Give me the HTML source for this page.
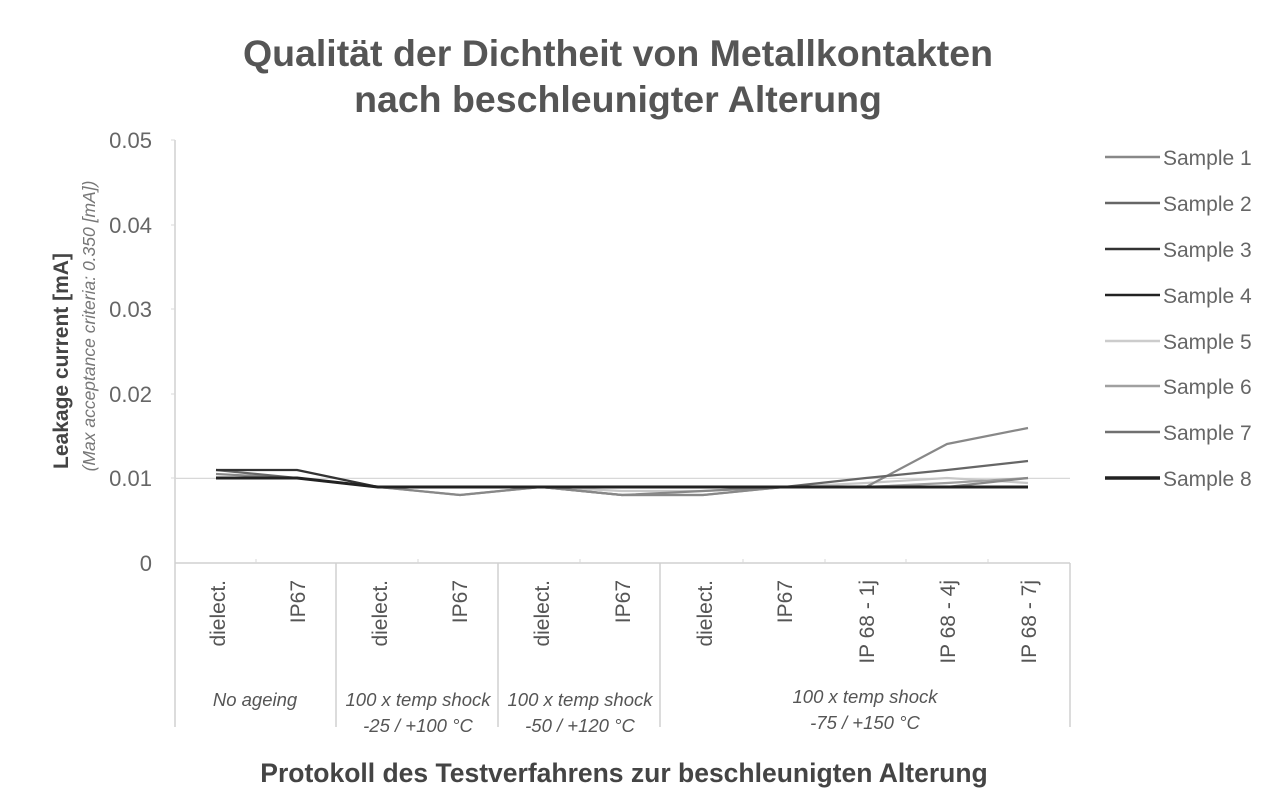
<!DOCTYPE html>
<html><head><meta charset="utf-8"><style>
html,body{margin:0;padding:0;background:#fff;}
svg{display:block;}
text{font-family:"Liberation Sans",sans-serif;}
</style></head><body>
<svg width="1280" height="811" viewBox="0 0 1280 811" xmlns="http://www.w3.org/2000/svg">
<rect width="1280" height="811" fill="#fff"/>
<text x="618" y="66" text-anchor="middle" font-size="37.5" font-weight="bold" fill="#555">Qualität der Dichtheit von Metallkontakten</text>
<text x="618" y="112" text-anchor="middle" font-size="37.5" font-weight="bold" fill="#555">nach beschleunigter Alterung</text>
<line x1="175" y1="140" x2="175" y2="563" stroke="#d0d0d0" stroke-width="1.5"/>
<g stroke="#d8d8d8" stroke-width="1">
<line x1="171" y1="140" x2="175" y2="140"/><line x1="171" y1="225" x2="175" y2="225"/><line x1="171" y1="309" x2="175" y2="309"/><line x1="171" y1="394" x2="175" y2="394"/><line x1="171" y1="478" x2="175" y2="478"/>
</g>
<line x1="175" y1="478.4" x2="1070" y2="478.4" stroke="#d8d8d8" stroke-width="1.2"/>
<g font-size="22" fill="#666" text-anchor="end">
<text x="152" y="148">0.05</text><text x="152" y="233">0.04</text><text x="152" y="317">0.03</text><text x="152" y="402">0.02</text><text x="152" y="486">0.01</text><text x="152" y="571">0</text>
</g>
<text transform="translate(68,361) rotate(-90)" text-anchor="middle" font-size="21" font-weight="bold" fill="#444">Leakage current [mA]</text>
<text transform="translate(95,326) rotate(-90)" text-anchor="middle" font-size="17.5" font-style="italic" fill="#777">(Max acceptance criteria: 0.350 [mA])</text>
<line x1="175" y1="563" x2="1070" y2="563" stroke="#d0d0d0" stroke-width="1.5"/>
<g stroke="#d0d0d0" stroke-width="1.5">
<line x1="175" y1="563" x2="175" y2="727"/><line x1="336" y1="563" x2="336" y2="727"/><line x1="498" y1="563" x2="498" y2="727"/><line x1="660" y1="563" x2="660" y2="727"/><line x1="1070" y1="563" x2="1070" y2="727"/>
</g>
<g stroke="#d8d8d8" stroke-width="1">
<line x1="256" y1="559" x2="256" y2="563"/><line x1="418" y1="559" x2="418" y2="563"/><line x1="580" y1="559" x2="580" y2="563"/><line x1="743" y1="559" x2="743" y2="563"/><line x1="825" y1="559" x2="825" y2="563"/><line x1="906" y1="559" x2="906" y2="563"/><line x1="988" y1="559" x2="988" y2="563"/>
</g>
<g font-size="21" fill="#555" text-anchor="end">
<text transform="translate(225,580) rotate(-90)">dielect.</text>
<text transform="translate(305,580) rotate(-90)">IP67</text>
<text transform="translate(387,580) rotate(-90)">dielect.</text>
<text transform="translate(467,580) rotate(-90)">IP67</text>
<text transform="translate(549,580) rotate(-90)">dielect.</text>
<text transform="translate(630,580) rotate(-90)">IP67</text>
<text transform="translate(712,580) rotate(-90)">dielect.</text>
<text transform="translate(792,580) rotate(-90)">IP67</text>
<text transform="translate(874,580) rotate(-90)">IP 68 - 1j</text>
<text transform="translate(955,580) rotate(-90)">IP 68 - 4j</text>
<text transform="translate(1036,580) rotate(-90)">IP 68 - 7j</text>
</g>
<g font-size="18.5" font-style="italic" fill="#555" text-anchor="middle">
<text x="255" y="706">No ageing</text>
<text x="418" y="706">100 x temp shock</text><text x="418" y="732">-25 / +100 °C</text>
<text x="580" y="706">100 x temp shock</text><text x="580" y="732">-50 / +120 °C</text>
<text x="865" y="703">100 x temp shock</text><text x="865" y="729">-75 / +150 °C</text>
</g>
<text x="624" y="782" text-anchor="middle" font-size="26.5" font-weight="bold" fill="#444">Protokoll des Testverfahrens zur beschleunigten Alterung</text>
<g fill="none" stroke-linejoin="round">
<polyline stroke="#c8c8c8" stroke-width="2.2" points="216,478 297,478 378,487 460,487 541,487 622,491 703,491 784,487 866,483 947,478 1028,483"/>
<polyline stroke="#a0a0a0" stroke-width="2.2" points="216,478 297,478 378,487 460,495 541,487 622,495 703,495 784,487 866,487 947,483 1028,478"/>
<polyline stroke="#888" stroke-width="2.2" points="216,478 297,478 378,487 460,487 541,487 622,495 703,491 784,487 866,487 947,487 1028,478"/>
<polyline stroke="#888" stroke-width="2.2" points="216,474 297,478 378,487 460,495 541,487 622,495 703,495 784,487 866,487 947,444 1028,428"/>
<polyline stroke="#666" stroke-width="2.2" points="216,470 297,478 378,487 460,487 541,487 622,487 703,487 784,487 866,478 947,470 1028,461"/>
<polyline stroke="#333" stroke-width="2.2" points="216,470 297,470 378,487 460,487 541,487 622,487 703,487 784,487 866,487 947,487 1028,487"/>
<polyline stroke="#222" stroke-width="3" points="216,478 297,478 378,487 460,487 541,487 622,487 703,487 784,487 866,487 947,487 1028,487"/>
</g>
<g stroke-width="2.5">
<line x1="1105" y1="157" x2="1160" y2="157" stroke="#888"/>
<line x1="1105" y1="203" x2="1160" y2="203" stroke="#666"/>
<line x1="1105" y1="249" x2="1160" y2="249" stroke="#333"/>
<line x1="1105" y1="295" x2="1160" y2="295" stroke="#222"/>
<line x1="1105" y1="341" x2="1160" y2="341" stroke="#ccc"/>
<line x1="1105" y1="386" x2="1160" y2="386" stroke="#a0a0a0"/>
<line x1="1105" y1="432" x2="1160" y2="432" stroke="#707070"/>
<line x1="1105" y1="478" x2="1160" y2="478" stroke="#222" stroke-width="3.5"/>
</g>
<g font-size="21" fill="#666">
<text x="1163" y="165">Sample 1</text><text x="1163" y="211">Sample 2</text><text x="1163" y="257">Sample 3</text><text x="1163" y="303">Sample 4</text><text x="1163" y="349">Sample 5</text><text x="1163" y="394">Sample 6</text><text x="1163" y="440">Sample 7</text><text x="1163" y="486">Sample 8</text>
</g>
</svg>
</body></html>
